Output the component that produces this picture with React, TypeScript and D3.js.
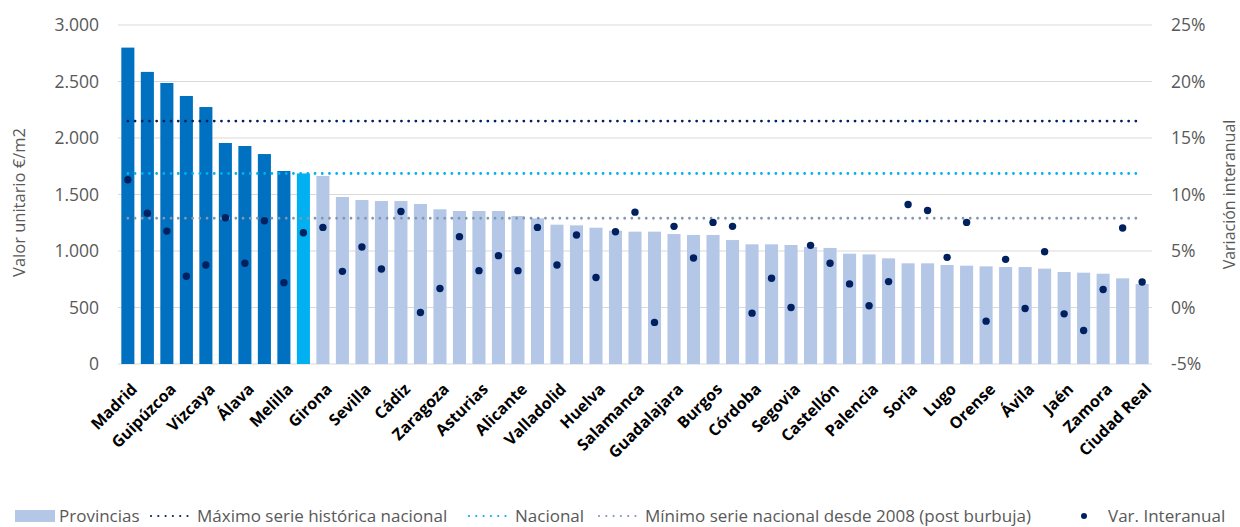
import { useEffect } from "react"
import * as d3 from "d3"

// Provincias ordenadas por valor unitario (€/m2); las pares no llevan etiqueta visible
const provincias = [
  "Madrid", "Barcelona", "Guipúzcoa", "Baleares", "Vizcaya", "Málaga", "Álava", "Ceuta", "Melilla", "Nacional",
  "Girona", "Tarragona", "Sevilla", "Navarra", "Cádiz", "Las Palmas", "Zaragoza", "Cantabria", "Asturias", "S.C. Tenerife",
  "Alicante", "Valencia", "Valladolid", "Granada", "Huelva", "La Rioja", "Salamanca", "Almería", "Guadalajara", "Pontevedra",
  "Burgos", "La Coruña", "Córdoba", "Murcia", "Segovia", "Huesca", "Castellón", "Toledo", "Palencia", "León",
  "Soria", "Cuenca", "Lugo", "Lleida", "Orense", "Teruel", "Ávila", "Albacete", "Jaén", "Cáceres",
  "Zamora", "Badajoz", "Ciudad Real",
]

const valorUnitario = [
  2800, 2585, 2487, 2372, 2274, 1956, 1929, 1858, 1708, 1686,
  1664, 1478, 1451, 1442, 1442, 1416, 1369, 1354, 1354, 1354,
  1310, 1289, 1233, 1227, 1206, 1180, 1171, 1171, 1150, 1142,
  1142, 1097, 1059, 1059, 1053, 1035, 1027, 976, 970, 935,
  891, 891, 876, 870, 864, 858, 858, 844, 814, 808,
  799, 758, 708,
]

// Variación interanual (%)
const varInteranual = [
  11.3, 8.35, 6.76, 2.76, 3.76, 7.94, 3.91, 7.68, 2.2, 6.62,
  7.09, 3.2, 5.35, 3.41, 8.5, -0.44, 1.68, 6.27, 3.26, 4.59,
  3.26, 7.09, 3.76, 6.41, 2.65, 6.71, 8.44, -1.32, 7.18, 4.38,
  7.53, 7.18, -0.5, 2.59, 0.0, 5.5, 3.91, 2.09, 0.15, 2.29,
  9.12, 8.59, 4.44, 7.53, -1.21, 4.26, -0.09, 4.94, -0.56, -2.03,
  1.59, 7.03, 2.26,
]

const maximoHistorico = 2150
const nacional = 1686
const minimoPostBurbuja = 1290

const ticksValor = [0, 500, 1000, 1500, 2000, 2500, 3000]
const ticksVar = [-5, 0, 5, 10, 15, 20, 25]

const W = 1240
const H = 527
const margin = { top: 25, right: 88, bottom: 163, left: 118 }
const TOP_N = 9

const fontFamily = "'Open Sans', 'DejaVu Sans', sans-serif"
const textColor = "#595959"

export default function App() {
  useEffect(() => {
    document.body.style.margin = "0"
  }, [])

  const x = d3
    .scaleBand<string>()
    .domain(provincias)
    .range([margin.left, W - margin.right])
    .paddingInner(0.33)
    .paddingOuter(0.17)

  const yL = d3.scaleLinear().domain([0, 3000]).range([H - margin.bottom, margin.top])
  const yR = d3.scaleLinear().domain([-5, 25]).range([H - margin.bottom, margin.top])

  const fmtMiles = d3.formatLocale({ decimal: ",", thousands: ".", grouping: [3], currency: ["", "€"] }).format(",")

  const cx = (p: string) => (x(p) ?? 0) + x.bandwidth() / 2
  const x0 = cx(provincias[0])
  const x1 = cx(provincias[provincias.length - 1])

  const barColor = (i: number) => (i < TOP_N ? "#0070C0" : provincias[i] === "Nacional" ? "#00B0F0" : "#B4C7E7")

  const refLines = [
    { v: maximoHistorico, color: "#002060" },
    { v: nacional, color: "#00B0F0" },
    { v: minimoPostBurbuja, color: "#8497B0" },
  ]

  const dotted = { strokeWidth: 2.8, strokeDasharray: "0 7.2", strokeLinecap: "round" as const }

  const legendY = 516
  const midY = (margin.top + H - margin.bottom) / 2

  return (
    <svg width={W} height={H} style={{ display: "block", fontFamily }}>
      {/* gridlines */}
      {ticksValor.map((t) => (
        <line key={t} x1={margin.left} x2={W - margin.right} y1={yL(t)} y2={yL(t)} stroke="#D9D9D9" strokeWidth={1.2} />
      ))}

      {/* bars */}
      {provincias.map((p, i) => (
        <rect key={p} x={x(p)} y={yL(valorUnitario[i])} width={x.bandwidth()} height={yL(0) - yL(valorUnitario[i])} fill={barColor(i)} />
      ))}

      {/* reference lines */}
      {refLines.map((r) => (
        <line key={r.v} x1={x0} x2={x1} y1={yL(r.v)} y2={yL(r.v)} stroke={r.color} {...dotted} />
      ))}

      {/* dots */}
      {provincias.map((p, i) => (
        <circle key={p} cx={cx(p)} cy={yR(varInteranual[i])} r={3.7} fill="#002060" />
      ))}

      {/* left axis */}
      {ticksValor.map((t) => (
        <text key={t} x={99} y={yL(t)} dy="0.35em" textAnchor="end" fontSize={17.5} fill={textColor}>
          {fmtMiles(t)}
        </text>
      ))}
      <text transform={`translate(18,${midY + 8}) rotate(-90)`} textAnchor="middle" dominantBaseline="central" fontSize={16.5} fill={textColor}>
        Valor unitario €/m2
      </text>

      {/* right axis */}
      {ticksVar.map((t) => (
        <text key={t} x={1171} y={yR(t)} dy="0.35em" textAnchor="start" fontSize={17.5} fill={textColor}>
          {`${t}%`}
        </text>
      ))}
      <text transform={`translate(1229,${midY}) rotate(-90)`} textAnchor="middle" dominantBaseline="central" fontSize={16} fill={textColor}>
        Variación interanual
      </text>

      {/* category labels (every other) */}
      {provincias.map((p, i) =>
        i % 2 === 0 ? (
          <text
            key={p}
            transform={`translate(${cx(p) + 6},${H - margin.bottom + 22}) rotate(-45)`}
            textAnchor="end"
            dominantBaseline="central"
            fontSize={16}
            fontWeight="bold"
            fill="#000"
          >
            {p}
          </text>
        ) : null,
      )}

      {/* legend */}
      <g fontSize={17} fill={textColor}>
        <rect x={15} y={legendY - 6} width={40} height={12} fill="#B4C7E7" />
        <text x={59} y={legendY} dy="0.35em">Provincias</text>

        <line x1={151} x2={189} y1={legendY} y2={legendY} stroke="#002060" strokeWidth={2.2} strokeDasharray="0 7.3" strokeLinecap="round" />
        <text x={197} y={legendY} dy="0.35em">Máximo serie histórica nacional</text>

        <line x1={469} x2={507} y1={legendY} y2={legendY} stroke="#00B0F0" strokeWidth={2.2} strokeDasharray="0 7.3" strokeLinecap="round" />
        <text x={515} y={legendY} dy="0.35em">Nacional</text>

        <line x1={599} x2={637} y1={legendY} y2={legendY} stroke="#8497B0" strokeWidth={2.2} strokeDasharray="0 7.3" strokeLinecap="round" />
        <text x={645} y={legendY} dy="0.35em">Mínimo serie nacional desde 2008 (post burbuja)</text>

        <circle cx={1084} cy={legendY} r={3} fill="#002060" />
        <text x={1108} y={legendY} dy="0.35em">Var. Interanual</text>
      </g>
    </svg>
  )
}
